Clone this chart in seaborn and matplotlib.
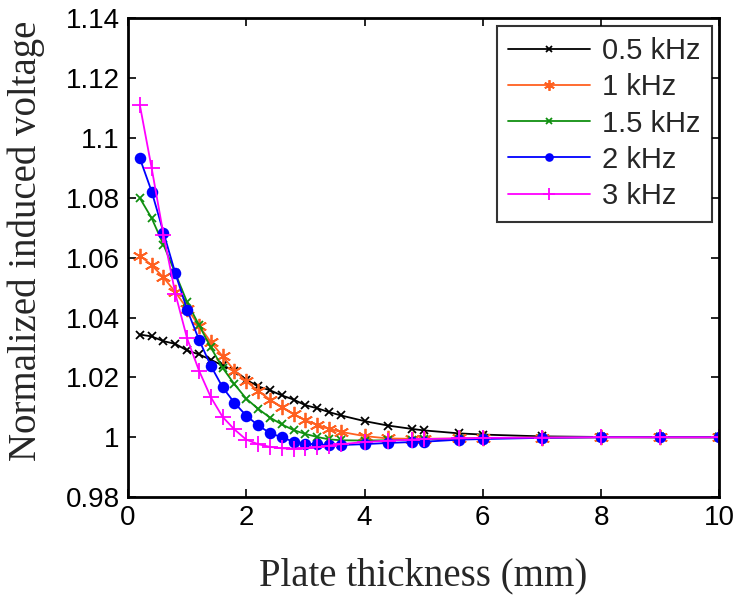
import matplotlib
matplotlib.use("Agg")
import matplotlib.pyplot as plt
import seaborn as sns
import numpy as np
import pandas as pd
from matplotlib.ticker import FuncFormatter

# plate thickness (mm)
thickness = [0.2, 0.4, 0.6, 0.8, 1.0, 1.2, 1.4, 1.6, 1.8, 2.0, 2.2, 2.4, 2.6, 2.8,
             3.0, 3.2, 3.4, 3.6, 4.0, 4.4, 4.8, 5.0, 5.6, 6.0, 7.0, 8.0, 9.0, 10.0]

v_05k = [1.0343, 1.0337, 1.0321, 1.0312, 1.0290, 1.0277, 1.0259, 1.0240, 1.0222, 1.0192,
         1.0170, 1.0157, 1.0140, 1.0126, 1.0107, 1.0097, 1.0084, 1.0073, 1.0054, 1.0039,
         1.0028, 1.0023, 1.0013, 1.0009, 1.0003, 1.0001, 1.0000, 1.0000]
v_1k = [1.0607, 1.0575, 1.0534, 1.0485, 1.0430, 1.0373, 1.0318, 1.0271, 1.0223, 1.0187,
        1.0155, 1.0126, 1.0100, 1.0077, 1.0057, 1.0042, 1.0028, 1.0018, 1.0004, 0.9996,
        0.9995, 0.9995, 0.9996, 0.9997, 0.9999, 1.0000, 1.0000, 1.0000]
v_15k = [1.0799, 1.0732, 1.0643, 1.0548, 1.0451, 1.0375, 1.0300, 1.0232, 1.0177, 1.0129,
         1.0095, 1.0066, 1.0043, 1.0024, 1.0011, 1.0001, 0.9993, 0.9990, 0.9989, 0.9990,
         0.9992, 0.9993, 0.9995, 0.9997, 0.9999, 1.0000, 1.0000, 1.0000]
v_2k = [1.0932, 1.0821, 1.0684, 1.0548, 1.0426, 1.0326, 1.0239, 1.0167, 1.0115, 1.0072,
        1.0040, 1.0014, 1.0000, 0.9985, 0.9979, 0.9976, 0.9974, 0.9974, 0.9977, 0.9981,
        0.9984, 0.9985, 0.9992, 0.9994, 0.9998, 1.0000, 1.0000, 1.0000]
v_3k = [1.1110, 1.0899, 1.0677, 1.0480, 1.0330, 1.0223, 1.0134, 1.0068, 1.0026, 0.9992,
        0.9977, 0.9968, 0.9963, 0.9962, 0.9963, 0.9967, 0.9972, 0.9977, 0.9984, 0.9989,
        0.9992, 0.9994, 0.9996, 0.9998, 0.9999, 1.0000, 1.0000, 1.0000]

labels = ["0.5 kHz", "1 kHz", "1.5 kHz", "2 kHz", "3 kHz"]
series = [v_05k, v_1k, v_15k, v_2k, v_3k]

colors = ["#000000", "#ff6020", "#109010", "#0000ff", "#ff00ff"]
markers = ["x", (6, 2, 0), "x", "o", "+"]
msizes = [6, 11, 6, 7, 12]

df = pd.concat([pd.DataFrame({"t": thickness, "v": s, "f": lab})
                for s, lab in zip(series, labels)])

sns.set_theme(style="ticks")
plt.rcParams["font.family"] = ["Liberation Sans", "DejaVu Sans"]

fig = plt.figure(figsize=(7.4, 6.07), dpi=100)
ax = fig.add_axes([0.173, 0.181, 0.799, 0.789])

for lab, c, m, ms in zip(labels, colors, markers, msizes):
    sns.lineplot(data=df[df["f"] == lab], x="t", y="v", ax=ax, color=c,
                 marker=m, markersize=ms, markeredgecolor=c, markeredgewidth=1.3,
                 linewidth=1.3, label=lab, sort=False)

ax.set_xlim(0, 10)
ax.set_ylim(0.98, 1.14)
ax.set_xticks(np.arange(0, 11, 2))
ax.set_yticks(np.arange(0.98, 1.1401, 0.02))
ax.yaxis.set_major_formatter(FuncFormatter(lambda v, p: f"{v:g}"))
ax.xaxis.set_major_formatter(FuncFormatter(lambda v, p: f"{v:g}"))
ax.tick_params(direction="in", length=6, width=1.2, top=True, right=True,
               labelsize=20, colors="black", pad=6)
for sp in ax.spines.values():
    sp.set_linewidth(2)
    sp.set_color("black")

ax.set_xlabel("Plate thickness (mm)", family="Liberation Serif", fontsize=28, labelpad=19)
ax.set_ylabel("Normalized induced voltage", family="Liberation Serif", fontsize=28)
ax.yaxis.set_label_coords(-0.14, 0.535)

leg = ax.legend(loc="upper right", fontsize=21, frameon=True, fancybox=False,
                edgecolor="black", handlelength=2.8, borderpad=0.4,
                labelspacing=0.28, handletextpad=0.4, borderaxespad=0.25,
                markerscale=0.7)
leg.get_frame().set_linewidth(1.5)

fig.savefig("out.png", dpi=100)
